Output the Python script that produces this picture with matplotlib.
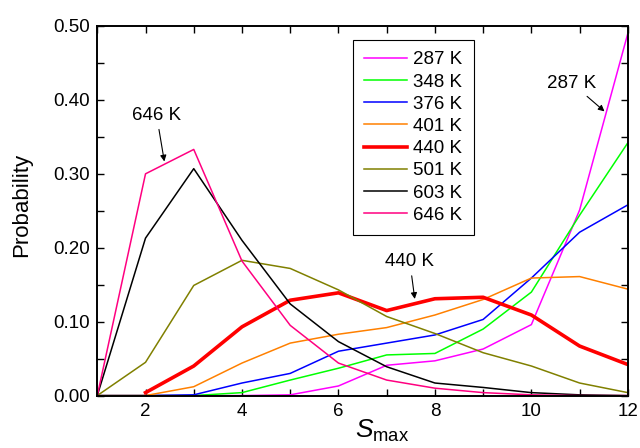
import numpy as np
import matplotlib.pyplot as plt
from matplotlib.ticker import MultipleLocator, FormatStrFormatter

plt.rcParams['font.family'] = 'Liberation Sans'
plt.rcParams['mathtext.fontset'] = 'custom'
plt.rcParams['mathtext.rm'] = 'Liberation Sans'
plt.rcParams['mathtext.it'] = 'Liberation Sans:italic'

# tamaño de cluster
s = [1, 2, 3, 4, 5, 6, 7, 8, 9, 10, 11, 12]

# probabilidades leidas para cada temperatura
p287 = [0, 0, 0, 0, 0.001, 0.013, 0.041, 0.047, 0.063, 0.096, 0.251, 0.49]
p348 = [0, 0, 0, 0.004, 0.021, 0.037, 0.055, 0.057, 0.090, 0.140, 0.244, 0.342]
p376 = [0, 0, 0.001, 0.017, 0.030, 0.060, 0.071, 0.082, 0.103, 0.159, 0.221, 0.258]
p401 = [0, 0, 0.012, 0.044, 0.071, 0.083, 0.092, 0.109, 0.130, 0.159, 0.161, 0.144]
s440 = [2, 3, 4, 5, 6, 7, 8, 9, 10, 11, 12]
p440 = [0.004, 0.040, 0.093, 0.129, 0.139, 0.115, 0.131, 0.133, 0.109, 0.067, 0.042]
p501 = [0, 0.045, 0.149, 0.183, 0.172, 0.143, 0.107, 0.084, 0.058, 0.040, 0.017, 0.004]
p603 = [0, 0.213, 0.307, 0.210, 0.124, 0.073, 0.039, 0.017, 0.011, 0.004, 0.001, 0]
p646 = [0, 0.300, 0.333, 0.182, 0.095, 0.044, 0.021, 0.010, 0.004, 0.001, 0, 0]

fig = plt.figure(figsize=(6.4, 4.48), dpi=100)
ax = fig.add_axes([0.152, 0.117, 0.829, 0.825])

ax.plot(s, p287, color='#FF00FF', lw=1.1, label='287 K')
ax.plot(s, p348, color='#00FF00', lw=1.1, label='348 K')
ax.plot(s, p376, color='#0000FF', lw=1.1, label='376 K')
ax.plot(s, p401, color='#FF8000', lw=1.1, label='401 K')
ax.plot(s440, p440, color='#FF0000', lw=2.6, label='440 K')
ax.plot(s, p501, color='#808000', lw=1.1, label='501 K')
ax.plot(s, p603, color='black', lw=1.1, label='603 K')
ax.plot(s, p646, color='#FF0080', lw=1.1, label='646 K')

flecha = dict(arrowstyle='-|>', color='black', lw=0.8, mutation_scale=9)
ax.annotate('646 K', xy=(2.40, 0.313), xytext=(2.23, 0.379), fontsize=13.5,
            ha='center', va='center', arrowprops=flecha)
ax.annotate('287 K', xy=(11.56, 0.382), xytext=(10.84, 0.4225), fontsize=13.5,
            ha='center', va='center', arrowprops=flecha)
ax.annotate('440 K', xy=(7.59, 0.127), xytext=(7.48, 0.181), fontsize=13.5,
            ha='center', va='center', arrowprops=flecha)

ax.set_xlim(1, 12)
ax.set_ylim(0, 0.5)
ax.xaxis.set_major_locator(MultipleLocator(2))
ax.xaxis.set_minor_locator(MultipleLocator(1))
ax.yaxis.set_major_locator(MultipleLocator(0.1))
ax.yaxis.set_minor_locator(MultipleLocator(0.05))
ax.yaxis.set_major_formatter(FormatStrFormatter('%.2f'))
ax.tick_params(which='both', direction='in', top=True, right=True, labelsize=13.5)
ax.tick_params(which='major', length=5, width=1, pad=5)
ax.tick_params(which='minor', length=5, width=1)
for sp in ax.spines.values():
    sp.set_linewidth(1.4)

ax.set_xlabel(r'$S_{\mathrm{max}}$', fontsize=19)
ax.xaxis.set_label_coords(0.5375, -0.06)
ax.set_ylabel('Probability', fontsize=16)
ax.yaxis.set_label_coords(-0.122, 0.516)

leg = ax.legend(loc='upper left', bbox_to_anchor=(0.482, 0.962), borderaxespad=0,
                fontsize=13.5, fancybox=False, framealpha=1, edgecolor='black',
                handlelength=2.3, labelspacing=0.27, handletextpad=0.3,
                borderpad=0.6)
leg.get_frame().set_linewidth(0.8)

plt.savefig('out.png', dpi=100)
